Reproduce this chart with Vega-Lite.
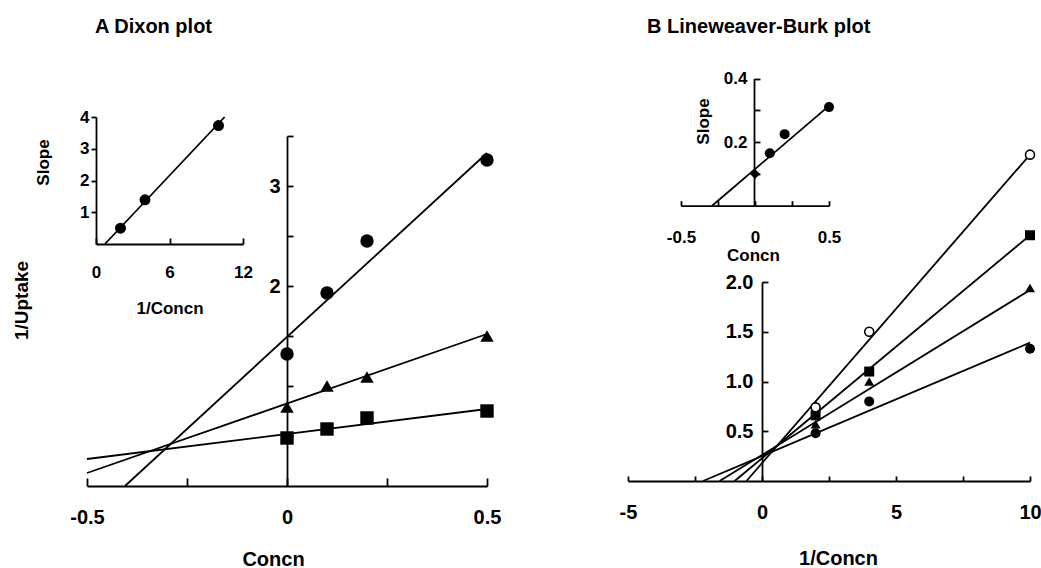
{
  "$schema": "https://vega.github.io/schema/vega-lite/v6.json",
  "width": 1041,
  "height": 568,
  "autosize": {"type": "none"},
  "padding": 0,
  "background": "white",
  "config": {
    "view": {"stroke": null},
    "axis": {
      "labelFont": "Liberation Sans",
      "titleFont": "Liberation Sans",
      "labelFontWeight": "bold",
      "titleFontWeight": "bold",
      "labelColor": "#000",
      "titleColor": "#000",
      "domainColor": "#000",
      "tickColor": "#000",
      "grid": false,
      "domainWidth": 1.8,
      "tickWidth": 1.8,
      "labelFlush": false,
      "labelOverlap": false,
      "labelBound": false
    },
    "text": {"font": "Liberation Sans", "color": "#000", "fontWeight": "bold"}
  },
  "datasets": {
    "dixon_pts": [
      {"series": "circle", "x": 0, "y": 1.32},
      {"series": "circle", "x": 0.1, "y": 1.93},
      {"series": "circle", "x": 0.2, "y": 2.45},
      {"series": "circle", "x": 0.5, "y": 3.26},
      {"series": "triangle", "x": 0, "y": 0.79},
      {"series": "triangle", "x": 0.1, "y": 1.0},
      {"series": "triangle", "x": 0.2, "y": 1.09},
      {"series": "triangle", "x": 0.5, "y": 1.5},
      {"series": "square", "x": 0, "y": 0.48},
      {"series": "square", "x": 0.1, "y": 0.57},
      {"series": "square", "x": 0.2, "y": 0.68},
      {"series": "square", "x": 0.5, "y": 0.75}
    ],
    "dixon_lines": [
      {"series": "circle", "x": -0.405, "y": 0},
      {"series": "circle", "x": 0.5, "y": 3.33},
      {"series": "triangle", "x": -0.5, "y": 0.13},
      {"series": "triangle", "x": 0.5, "y": 1.52},
      {"series": "square", "x": -0.5, "y": 0.27},
      {"series": "square", "x": 0.5, "y": 0.77}
    ],
    "dixon_inset_pts": [
      {"x": 2, "y": 0.5},
      {"x": 4, "y": 1.39},
      {"x": 10, "y": 3.73}
    ],
    "dixon_inset_line": [
      {"x": 0.73, "y": 0},
      {"x": 10.5, "y": 4.0}
    ],
    "lb_pts": [
      {"series": "square", "x": 2, "y": 0.66},
      {"series": "square", "x": 4, "y": 1.1},
      {"series": "square", "x": 10, "y": 2.47},
      {"series": "triangle", "x": 2, "y": 0.57},
      {"series": "triangle", "x": 4, "y": 1.0},
      {"series": "triangle", "x": 10, "y": 1.94},
      {"series": "circle", "x": 2, "y": 0.48},
      {"series": "circle", "x": 4, "y": 0.8},
      {"series": "circle", "x": 10, "y": 1.33}
    ],
    "lb_open_pts": [
      {"series": "open", "x": 2, "y": 0.74},
      {"series": "open", "x": 4, "y": 1.5},
      {"series": "open", "x": 10, "y": 3.28}
    ],
    "lb_lines": [
      {"series": "open", "x": -0.58, "y": 0},
      {"series": "open", "x": 10, "y": 3.28},
      {"series": "square", "x": -1.02, "y": 0},
      {"series": "square", "x": 10, "y": 2.47},
      {"series": "triangle", "x": -1.58, "y": 0},
      {"series": "triangle", "x": 10, "y": 1.92},
      {"series": "circle", "x": -2.2, "y": 0},
      {"series": "circle", "x": 10, "y": 1.39}
    ],
    "lb_inset_pts": [
      {"series": "diamond", "x": 0, "y": 0.1},
      {"series": "circle", "x": 0.1, "y": 0.165},
      {"series": "circle", "x": 0.2, "y": 0.225},
      {"series": "circle", "x": 0.5, "y": 0.31}
    ],
    "lb_inset_line": [
      {"x": -0.29, "y": 0},
      {"x": 0.49, "y": 0.31}
    ]
  },
  "layer": [
    {
      "encoding": {
        "x": {
          "field": "x", "type": "quantitative",
          "scale": {"domain": [-0.5, 0.5], "range": [87, 487], "nice": false, "zero": false},
          "axis": {
            "orient": "bottom", "offset": -82,
            "values": [-0.5, -0.25, 0, 0.25, 0.5],
            "labelExpr": "datum.value == -0.5 ? '-0.5' : datum.value == 0 ? '0' : datum.value == 0.5 ? '0.5' : ''",
            "tickSize": -8, "labelPadding": 29, "labelFontSize": 20,
            "title": "Concn", "titleFontSize": 20, "titleX": 273, "titleY": 79,
            "titleBaseline": "alphabetic", "titleAlign": "center"
          }
        },
        "y": {
          "field": "y", "type": "quantitative",
          "scale": {"domain": [0, 3.5], "range": [486, 136], "nice": false, "zero": false},
          "axis": {
            "orient": "left", "offset": -287,
            "values": [0.5, 1, 1.5, 2, 2.5, 3, 3.5],
            "labelExpr": "datum.value == 2 ? '2' : datum.value == 3 ? '3' : ''",
            "tickSize": -6, "labelPadding": 13, "labelFontSize": 20,
            "title": "1/Uptake", "titleFontSize": 19, "titleX": -260, "titleY": 300,
            "titleAngle": -90, "titleBaseline": "alphabetic", "titleAlign": "center"
          }
        }
      },
      "layer": [
        {
          "data": {"name": "dixon_lines"},
          "mark": {"type": "line", "color": "#000", "strokeWidth": 1.8},
          "encoding": {"detail": {"field": "series", "type": "nominal"}}
        },
        {
          "data": {"name": "dixon_pts"},
          "mark": {"type": "point", "filled": true, "color": "#000", "opacity": 1},
          "encoding": {
            "shape": {"field": "series", "type": "nominal", "legend": null,
              "scale": {"domain": ["circle", "triangle", "square"], "range": ["circle", "triangle-up", "square"]}},
            "size": {"value": 180}
          }
        }
      ]
    },
    {
      "encoding": {
        "x": {
          "field": "x", "type": "quantitative",
          "scale": {"domain": [0, 12], "range": [96, 243], "nice": false, "zero": false},
          "axis": {
            "orient": "bottom", "offset": -324,
            "values": [0, 6, 12], "format": "d",
            "tickSize": -6, "labelPadding": 26, "labelFontSize": 17,
            "title": "1/Concn", "titleFontSize": 17, "titleX": 169.5, "titleY": 69,
            "titleBaseline": "alphabetic", "titleAlign": "center"
          }
        },
        "y": {
          "field": "y", "type": "quantitative",
          "scale": {"domain": [0, 4], "range": [244, 117], "nice": false, "zero": false},
          "axis": {
            "orient": "left", "offset": -96,
            "values": [1, 2, 3, 4], "format": "d",
            "tickSize": 5, "labelPadding": 2, "labelFontSize": 17,
            "title": "Slope", "titleFontSize": 17, "titleX": -48, "titleY": 162,
            "titleAngle": -90, "titleBaseline": "alphabetic", "titleAlign": "center"
          }
        }
      },
      "layer": [
        {
          "data": {"name": "dixon_inset_line"},
          "mark": {"type": "line", "color": "#000", "strokeWidth": 1.8}
        },
        {
          "data": {"name": "dixon_inset_pts"},
          "mark": {"type": "point", "shape": "circle", "filled": true, "color": "#000", "opacity": 1, "size": 121}
        }
      ]
    },
    {
      "encoding": {
        "x": {
          "field": "x", "type": "quantitative",
          "scale": {"domain": [-5, 10], "range": [628, 1030], "nice": false, "zero": false},
          "axis": {
            "orient": "bottom", "offset": -87,
            "values": [-5, -2.5, 0, 2.5, 5, 7.5, 10],
            "labelExpr": "datum.value == -5 ? '-5' : datum.value == 0 ? '0' : datum.value == 5 ? '5' : datum.value == 10 ? '10' : ''",
            "tickSize": -5, "labelPadding": 26, "labelFontSize": 20,
            "title": "1/Concn", "titleFontSize": 20, "titleX": 838, "titleY": 83,
            "titleBaseline": "alphabetic", "titleAlign": "center"
          }
        },
        "y": {
          "field": "y", "type": "quantitative",
          "scale": {"domain": [0, 2], "range": [481, 282], "nice": false, "zero": false},
          "axis": {
            "orient": "left", "offset": -762,
            "values": [0.5, 1, 1.5, 2],
            "labelExpr": "format(datum.value, '.1f')",
            "tickSize": -6, "labelPadding": 15, "labelFontSize": 20,
            "title": null
          }
        }
      },
      "layer": [
        {
          "data": {"name": "lb_lines"},
          "mark": {"type": "line", "color": "#000", "strokeWidth": 1.8},
          "encoding": {"detail": {"field": "series", "type": "nominal"}}
        },
        {
          "data": {"name": "lb_pts"},
          "mark": {"type": "point", "filled": true, "color": "#000", "opacity": 1},
          "encoding": {
            "shape": {"field": "series", "type": "nominal", "legend": null,
              "scale": {"domain": ["circle", "triangle", "square"], "range": ["circle", "triangle-up", "square"]}},
            "size": {"value": 100}
          }
        },
        {
          "data": {"name": "lb_open_pts"},
          "mark": {"type": "point", "shape": "circle", "filled": false, "fill": "white", "color": "#000", "strokeWidth": 1.6, "opacity": 1, "size": 81}
        }
      ]
    },
    {
      "encoding": {
        "x": {
          "field": "x", "type": "quantitative",
          "scale": {"domain": [-0.5, 0.5], "range": [681, 829], "nice": false, "zero": false},
          "axis": {
            "orient": "bottom", "offset": -362.3,
            "values": [-0.5, -0.25, 0, 0.25, 0.5],
            "labelExpr": "datum.value == -0.5 ? '-0.5' : datum.value == 0 ? '0' : datum.value == 0.5 ? '0.5' : ''",
            "tickSize": -5, "labelPadding": 29, "labelFontSize": 17,
            "title": "Concn", "titleFontSize": 17, "titleX": 753, "titleY": 55,
            "titleBaseline": "alphabetic", "titleAlign": "center"
          }
        },
        "y": {
          "field": "y", "type": "quantitative",
          "scale": {"domain": [0, 0.4], "range": [205.7, 78.5], "nice": false, "zero": false},
          "axis": {
            "orient": "left", "offset": -754,
            "values": [0.1, 0.2, 0.3, 0.4],
            "labelExpr": "datum.value == 0.2 ? '0.2' : datum.value == 0.4 ? '0.4' : ''",
            "tickSize": -6, "labelPadding": 13, "labelFontSize": 17,
            "title": "Slope", "titleFontSize": 17, "titleX": -46, "titleY": 121,
            "titleAngle": -90, "titleBaseline": "alphabetic", "titleAlign": "center"
          }
        }
      },
      "layer": [
        {
          "data": {"name": "lb_inset_line"},
          "mark": {"type": "line", "color": "#000", "strokeWidth": 1.8}
        },
        {
          "data": {"name": "lb_inset_pts"},
          "mark": {"type": "point", "filled": true, "color": "#000", "opacity": 1},
          "encoding": {
            "shape": {"field": "series", "type": "nominal", "legend": null,
              "scale": {"domain": ["diamond", "circle"], "range": ["diamond", "circle"]}},
            "size": {"value": 100}
          }
        }
      ]
    },
    {
      "data": {"values": [{"label": "A Dixon plot"}]},
      "mark": {"type": "text", "align": "left", "baseline": "alphabetic", "fontSize": 20, "color": "#000"},
      "encoding": {
        "x": {"datum": -0.48, "type": "quantitative", "scale": {"domain": [-0.5, 0.5], "range": [87, 487], "nice": false, "zero": false}, "axis": null},
        "y": {"datum": 4.53, "type": "quantitative", "scale": {"domain": [0, 3.5], "range": [486, 136], "nice": false, "zero": false}, "axis": null},
        "text": {"field": "label", "type": "nominal"}
      }
    },
    {
      "data": {"values": [{"label": "B Lineweaver-Burk plot"}]},
      "mark": {"type": "text", "align": "left", "baseline": "alphabetic", "fontSize": 20, "color": "#000"},
      "encoding": {
        "x": {"datum": -4.29, "type": "quantitative", "scale": {"domain": [-5, 10], "range": [628, 1030], "nice": false, "zero": false}, "axis": null},
        "y": {"datum": 4.5, "type": "quantitative", "scale": {"domain": [0, 2], "range": [481, 282], "nice": false, "zero": false}, "axis": null},
        "text": {"field": "label", "type": "nominal"}
      }
    }
  ],
  "resolve": {
    "scale": {"x": "independent", "y": "independent", "shape": "independent"},
    "axis": {"x": "independent", "y": "independent"}
  }
}
